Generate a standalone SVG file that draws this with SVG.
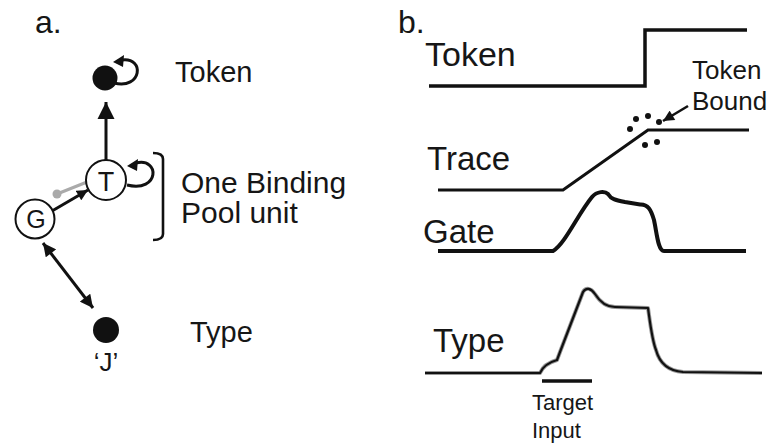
<svg xmlns="http://www.w3.org/2000/svg" width="773" height="447" viewBox="0 0 773 447">
  <style>
    text { font-family: "Liberation Sans", Arial, sans-serif; fill: #161616; }
    .conn { stroke: #111; stroke-width: 3; fill: none; }
    .node { fill: #fff; stroke: #111; stroke-width: 2; }
    .dot { fill: #111; }
    .trace { fill: none; stroke: #111; stroke-linejoin: miter; }
  </style>
  <defs>
    <marker id="headBig" viewBox="0 0 10 10" refX="10" refY="5" markerUnits="userSpaceOnUse" markerWidth="17" markerHeight="18" orient="auto">
      <path d="M0,0 L10,5 L0,10 z" fill="#111"/>
    </marker>
    <marker id="headMid" viewBox="0 0 10 10" refX="10" refY="5" markerUnits="userSpaceOnUse" markerWidth="14" markerHeight="13" orient="auto-start-reverse">
      <path d="M0,0 L10,5 L0,10 z" fill="#111"/>
    </marker>
    <marker id="headSmall" viewBox="0 0 10 10" refX="10" refY="5" markerUnits="userSpaceOnUse" markerWidth="12" markerHeight="11" orient="auto">
      <path d="M0,0 L10,5 L0,10 z" fill="#111"/>
    </marker>
  </defs>

  <!-- panel a: binding pool network -->
  <text x="35" y="33" font-size="32">a.</text>

  <g id="connectors">
    <!-- T drives the token node -->
    <line class="conn" x1="106" y1="160" x2="106" y2="102" marker-end="url(#headBig)"/>
    <!-- inhibitory (gray) link G - T -->
    <line x1="57" y1="194" x2="87" y2="182" stroke="#aaa" stroke-width="3"/>
    <circle cx="57" cy="194" r="4.5" fill="#aaa"/>
    <!-- G excites T -->
    <line class="conn" x1="52" y1="211" x2="88" y2="190" stroke-width="2.6" marker-end="url(#headSmall)"/>
    <!-- G <-> Type -->
    <line class="conn" x1="43" y1="243" x2="93" y2="308" stroke-width="2.6" marker-start="url(#headMid)" marker-end="url(#headMid)"/>
    <!-- self loops -->
    <path class="conn" d="M114,83 C142,90 145,57 122,60" stroke-width="2.6"/>
    <path d="M113,62 L124,55 L123,67 z" fill="#111"/>
    <path class="conn" d="M127,185 C160,193 160,157 136,163" stroke-width="2.6"/>
    <path d="M127,166 L138,159 L137,171 z" fill="#111"/>
  </g>

  <g id="token-node">
    <circle class="dot" cx="105" cy="78" r="12.5"/>
    <text x="175" y="82" font-size="29">Token</text>
  </g>

  <g id="t-node">
    <circle class="node" cx="106" cy="180" r="20"/>
    <text x="106" y="191" font-size="27" text-anchor="middle">T</text>
  </g>

  <g id="g-node">
    <circle class="node" cx="35" cy="219" r="19.5"/>
    <text x="36" y="228" font-size="25" text-anchor="middle">G</text>
  </g>

  <g id="pool-label">
    <path d="M153,153 Q163,153 163,159 L163,234 Q163,240 153,240" fill="none" stroke="#111" stroke-width="2.6"/>
    <text x="181" y="193" font-size="30">One Binding</text>
    <text x="181" y="223" font-size="30">Pool unit</text>
  </g>

  <g id="type-node">
    <circle class="dot" cx="106" cy="330" r="13"/>
    <text x="106" y="371" font-size="26" text-anchor="middle">‘J’</text>
    <text x="190" y="342" font-size="29">Type</text>
  </g>

  <!-- panel b: activity traces -->
  <text x="398" y="33" font-size="32">b.</text>

  <g id="token-trace">
    <text x="425" y="66" font-size="34">Token</text>
    <polyline class="trace" stroke-width="3.5" points="429,86 645,86 645,30 747,30"/>
  </g>

  <g id="bound-marker">
    <text x="692" y="79" font-size="26">Token</text>
    <text x="692" y="110" font-size="26">Bound</text>
    <line x1="688" y1="106" x2="663" y2="121" stroke="#111" stroke-width="2.6" marker-end="url(#headSmall)"/>
    <circle class="dot" cx="630" cy="129" r="3"/>
    <circle class="dot" cx="636" cy="119" r="3"/>
    <circle class="dot" cx="648" cy="116" r="3"/>
    <circle class="dot" cx="659" cy="122" r="3"/>
    <circle class="dot" cx="645" cy="145" r="3"/>
    <circle class="dot" cx="657" cy="142" r="3"/>
  </g>

  <g id="trace-trace">
    <text x="427" y="170" font-size="33">Trace</text>
    <polyline class="trace" stroke-width="3" points="438,190 563,190 648,130 749,130"/>
  </g>

  <g id="gate-trace">
    <text x="423" y="243" font-size="33">Gate</text>
    <path class="trace" stroke-width="4" stroke-linejoin="round" d="M438,251 L553,251 C565,244 578,214 592,197 C597,191 605,191 608,194 C611,199 615,200 625,202 L640,204.5 C648,204 651,210 654,220 C657,234 658,251 664,251 L746,251"/>
  </g>

  <g id="type-trace">
    <text x="433" y="352" font-size="33">Type</text>
    <path fill="none" stroke="#999" stroke-width="4" stroke-linejoin="round" d="M425,373 L540,373 C543,366 550,362 557,360 L560,352 L583,292 C586,287 591,288 595,294 C600,302 606,307 615,307 L648,308 C650,322 652,340 656,350 C660,365 670,371 683,372 L762,373"/>
    <path fill="none" stroke="#111" stroke-width="2.2" stroke-linejoin="round" d="M425,373 L540,373 C543,366 550,362 557,360 L560,352 L583,292 C586,287 591,288 595,294 C600,302 606,307 615,307 L648,308 C650,322 652,340 656,350 C660,365 670,371 683,372 L762,373"/>
    <line x1="542" y1="381" x2="592" y2="381" stroke="#111" stroke-width="3.5"/>
    <text x="532" y="410" font-size="22">Target</text>
    <text x="532" y="438" font-size="22">Input</text>
  </g>
</svg>
